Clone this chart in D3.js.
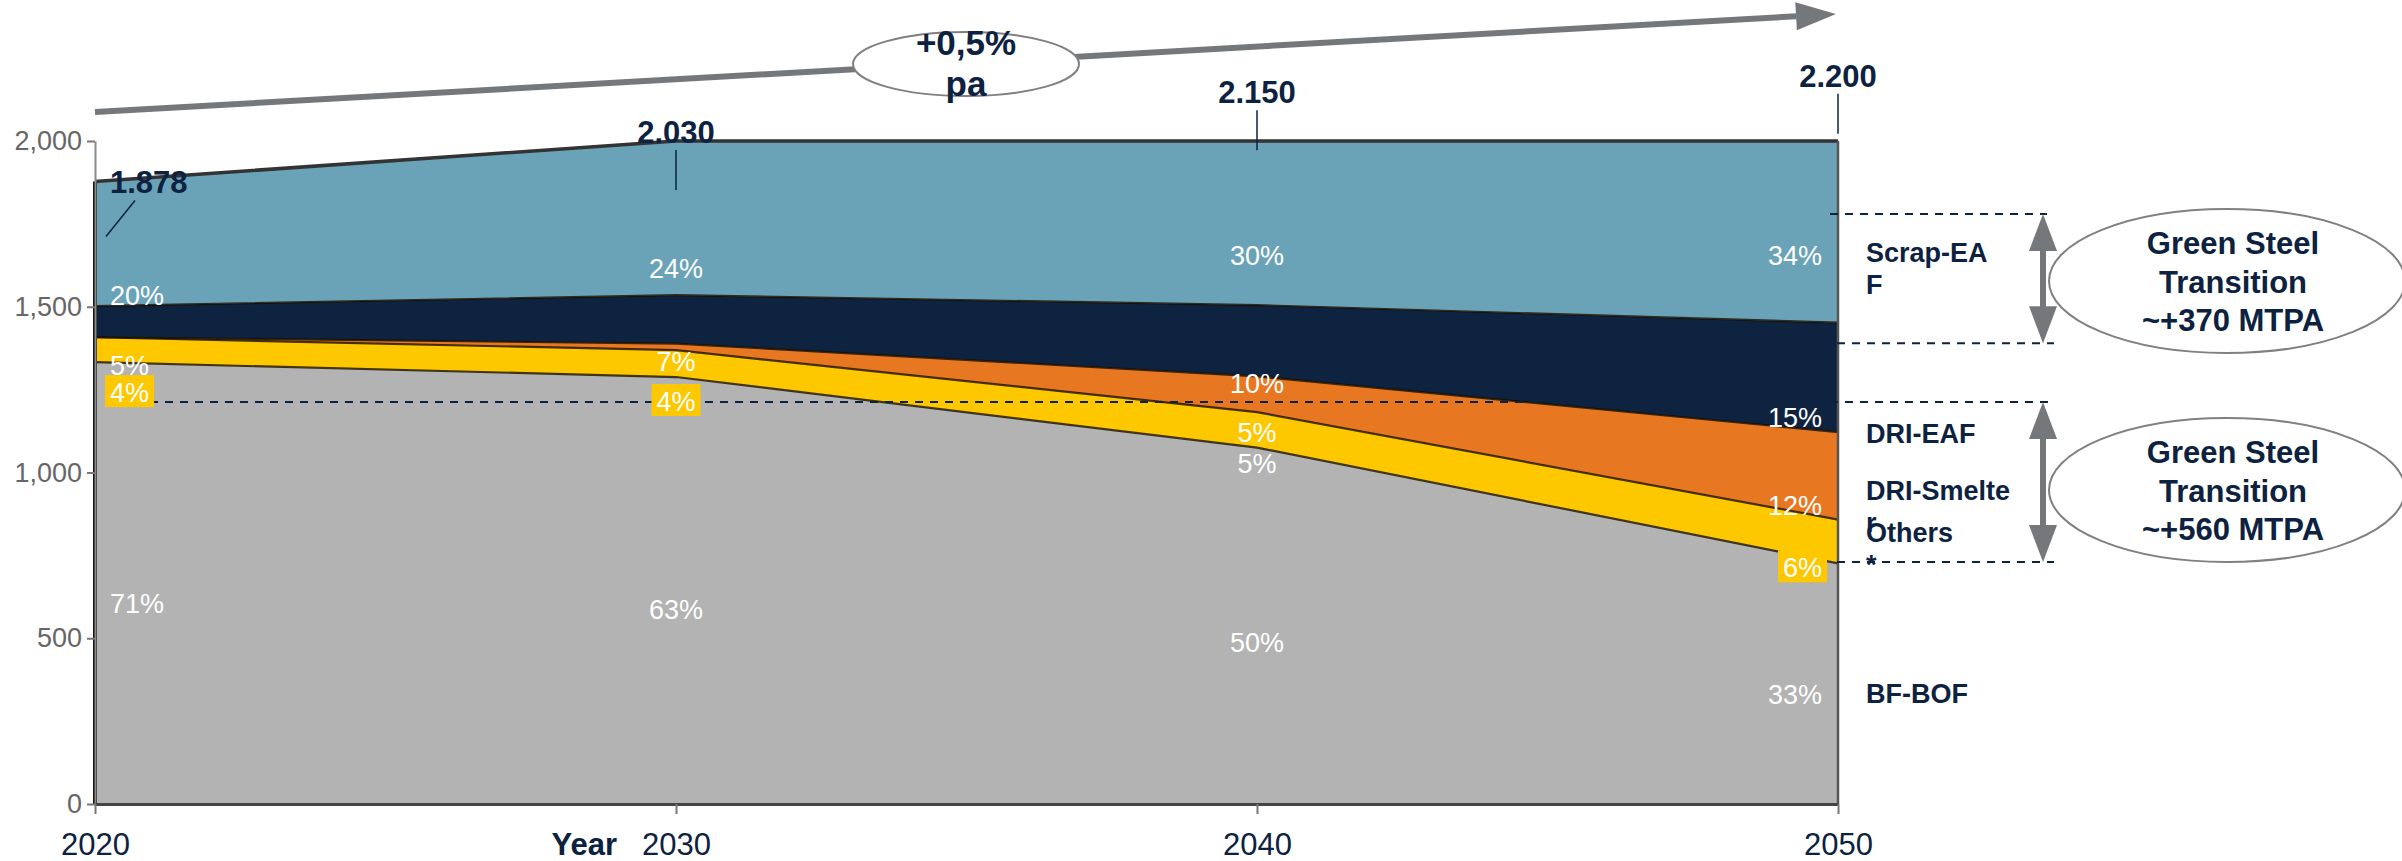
<!DOCTYPE html>
<html>
<head>
<meta charset="utf-8">
<script src="https://cdn.jsdelivr.net/npm/d3@7"></script>
<style>
  body { margin: 0; background: #fff; }
  svg { display: block; font-family: "Liberation Sans", Arial, sans-serif; }
  .pct { fill: #fff; font-size: 27px; }
  .total { fill: #0d2240; font-size: 31px; font-weight: bold; }
  .route { fill: #0d2240; font-size: 27px; font-weight: bold; }
  .bubble { fill: #0d2240; font-size: 31px; font-weight: bold; text-anchor: middle; }
  .yaxis text { fill: #666; font-size: 27px; }
  .xaxis text { fill: #0d2240; font-size: 31px; }
</style>
</head>
<body>
<svg width="2402" height="861"></svg>
<script>
// steel production by route, Mt
var years = [2020, 2030, 2040, 2050];
var bfBof = [1333, 1288, 1075, 726];
var others = [75, 81, 107, 132];
var driSmelter = [0, 20, 108, 264];
var driEaf = [94, 146, 215, 330];
var scrapEaf = [376, 495, 645, 748];
var routes = ["BF-BOF", "Others", "DRI-Smelter", "DRI-EAF", "Scrap-EAF"];
var routeLabels = [["Scrap-EA", "F"], ["DRI-EAF"], ["DRI-Smelte", "r"], ["Others", "*"], ["BF-BOF"]];
var yTicks = [0, 500, 1000, 1500, 2000];

var colors = {
  "BF-BOF": "#b2b3b2",
  "Others": "#fdc800",
  "DRI-Smelter": "#e87722",
  "DRI-EAF": "#0e2340",
  "Scrap-EAF": "#6aa3b8"
};

var rows = years.map(function(yr, i) {
  return { year: yr, "BF-BOF": bfBof[i], "Others": others[i], "DRI-Smelter": driSmelter[i],
           "DRI-EAF": driEaf[i], "Scrap-EAF": scrapEaf[i] };
});
var totals = rows.map(function(r) { return d3.sum(routes, function(k) { return r[k]; }); });
var layers = d3.stack().keys(routes)(rows);

var svg = d3.select("svg");
var navy = "#0d2240";
var grey = "#75787b";

var x = d3.scaleLinear().domain([2020, 2050]).range([95, 1838]);
var y = d3.scaleLinear().domain([0, 2000]).range([804, 141]).clamp(true);
var yRaw = y.copy().clamp(false);

var de = d3.formatLocale({ decimal: ",", thousands: ".", grouping: [3], currency: ["", ""] });

// growth arrow across the top
var x0 = x(2020), y0 = 112, x1 = x(2050) - 2, y1 = 14;
var ang = Math.atan2(y1 - y0, x1 - x0);
var hl = 40, hw = 14;
var bx = x1 - hl * Math.cos(ang), by = y1 - hl * Math.sin(ang);
svg.append("line").attr("x1", x0).attr("y1", y0).attr("x2", bx).attr("y2", by)
  .attr("stroke", grey).attr("stroke-width", 6);
svg.append("path")
  .attr("d", "M" + x1 + "," + y1 + "L" + (bx - hw * Math.sin(ang)) + "," + (by + hw * Math.cos(ang)) +
             "L" + (bx + hw * Math.sin(ang)) + "," + (by - hw * Math.cos(ang)) + "Z")
  .attr("fill", grey);

var cagr = Math.pow(totals[3] / totals[0], 1 / (years[3] - years[0])) - 1;
svg.append("ellipse").attr("cx", 966).attr("cy", 64).attr("rx", 113).attr("ry", 32)
  .attr("fill", "#fff").attr("stroke", "#808080").attr("stroke-width", 2);
svg.append("text").attr("class", "bubble").attr("x", 966).attr("y", 55).style("font-size", "35px")
  .text(de.format("+.1%")(cagr));
svg.append("text").attr("class", "bubble").attr("x", 966).attr("y", 96).style("font-size", "35px")
  .text("pa");

// stacked areas
var area = d3.area()
  .x(function(d) { return x(d.data.year); })
  .y0(function(d) { return y(d[0]); })
  .y1(function(d) { return y(d[1]); });
var edge = d3.line()
  .x(function(d) { return x(d.data.year); })
  .y(function(d) { return y(d[1]); });

svg.append("g").selectAll("path").data(layers).enter().append("path")
  .attr("d", area).attr("fill", function(d) { return colors[d.key]; });

svg.append("g").selectAll("path").data(layers).enter().append("path")
  .attr("d", edge).attr("fill", "none").attr("stroke-linejoin", "round")
  .attr("stroke", function(d, i) { return i === layers.length - 1 ? "#333" : "rgba(25,15,0,0.8)"; })
  .attr("stroke-width", function(d, i) { return i === layers.length - 1 ? 3.5 : 2.2; });

// left / right edges of the area
svg.append("line").attr("x1", x(2020)).attr("x2", x(2020))
  .attr("y1", y(0)).attr("y2", y(totals[0])).attr("stroke", "#111").attr("stroke-width", 4);

// axes
var yAxis = svg.append("g").attr("class", "yaxis").attr("transform", "translate(" + x(2020) + ",0)")
  .call(d3.axisLeft(y).tickValues(yTicks).tickFormat(d3.format(",")).tickSize(8).tickPadding(5).tickSizeOuter(0));
yAxis.select(".domain").attr("stroke", "#8a8a8a").attr("stroke-width", 2);
yAxis.selectAll(".tick line").attr("stroke", "#777").attr("stroke-width", 2);
yAxis.selectAll("text").attr("font-family", null).attr("font-size", null);

svg.append("line").attr("x1", x(2050)).attr("x2", x(2050))
  .attr("y1", y(2000)).attr("y2", y(0)).attr("stroke", "#555").attr("stroke-width", 2.5);

var xAxis = svg.append("g").attr("class", "xaxis").attr("transform", "translate(0," + y(0) + ")")
  .call(d3.axisBottom(x).tickValues(years).tickFormat(d3.format("d")).tickSize(10).tickPadding(19).tickSizeOuter(0));
xAxis.select(".domain").attr("stroke", "#444").attr("stroke-width", 3);
xAxis.selectAll(".tick line").attr("stroke", "#777").attr("stroke-width", 2);
xAxis.selectAll("text").attr("font-family", null).attr("font-size", null);
svg.append("text").attr("x", 617).attr("y", 855).attr("text-anchor", "end")
  .attr("fill", navy).attr("font-size", 31).attr("font-weight", "bold").text("Year");

// dashed guide lines (levels in Mt)
function dashed(v, xa, xb) {
  svg.append("line").attr("x1", xa).attr("x2", xb).attr("y1", y(v)).attr("y2", y(v))
    .attr("stroke", navy).attr("stroke-width", 2).attr("stroke-dasharray", "8,7");
}
dashed(1213, 105, 2054);
dashed(1780, 1830, 2047);
dashed(1390, 1837, 2054);
dashed(730, 1837, 2054);

// double arrows
function dblArrow(vTop, vBot) {
  var ax = 2043, t = y(vTop), b = y(vBot), L = 37, w = 14;
  svg.append("line").attr("x1", ax).attr("x2", ax).attr("y1", t + L - 2).attr("y2", b - L + 2)
    .attr("stroke", grey).attr("stroke-width", 6);
  svg.append("path").attr("d", "M" + ax + "," + t + "L" + (ax - w) + "," + (t + L) + "L" + (ax + w) + "," + (t + L) + "Z")
    .attr("fill", grey);
  svg.append("path").attr("d", "M" + ax + "," + b + "L" + (ax - w) + "," + (b - L) + "L" + (ax + w) + "," + (b - L) + "Z")
    .attr("fill", grey);
}
dblArrow(1780, 1390);
dblArrow(1213, 730);

// percent labels
var labelDy = {
  "Scrap-EAF": [-1, -17, -40, -58],
  "DRI-EAF": [38, 27, 17, -5],
  "DRI-Smelter": [0, 0, 30, -5],
  "Others": [40, 34, 25, 14],
  "BF-BOF": [30, 28, 26, 20]
};
var boxed = [true, true, false, true];
var pctG = svg.append("g");
layers.forEach(function(layer) {
  layer.forEach(function(d, i) {
    var pct = Math.round((d[1] - d[0]) / totals[i] * 100);
    if (pct < 2) return;
    var ty;
    if (layer.key === "BF-BOF") ty = (y(d[0]) + y(d[1])) / 2 + labelDy[layer.key][i];
    else ty = y(d[0]) + labelDy[layer.key][i];
    var tx = i === 0 ? x(d.data.year) + 15 : i === 3 ? x(d.data.year) - 16 : x(d.data.year);
    var anchor = i === 0 ? "start" : i === 3 ? "end" : "middle";
    var g = pctG.append("g");
    var t = g.append("text").attr("class", "pct").attr("x", tx).attr("y", ty)
      .attr("text-anchor", anchor).text(pct + "%");
    if (layer.key === "Others" && boxed[i]) {
      var bb = t.node().getBBox();
      g.insert("rect", "text").attr("x", bb.x - 5).attr("y", ty - 27).attr("width", bb.width + 10).attr("height", 32)
        .attr("fill", colors["Others"]);
    }
  });
});

// totals with leader lines
rows.forEach(function(r, i) {
  var base = yRaw(totals[i]) + 12;
  var cx = x(r.year);
  svg.append("text").attr("class", "total")
    .attr("x", i === 0 ? cx + 15 : cx).attr("y", base)
    .attr("text-anchor", i === 0 ? "start" : "middle")
    .text(de.format(",d")(totals[i]));
  if (i === 0) {
    svg.append("line").attr("x1", cx + 40).attr("y1", base + 7).attr("x2", cx + 11).attr("y2", base + 43)
      .attr("stroke", navy).attr("stroke-width", 1.5);
  } else {
    svg.append("line").attr("x1", cx).attr("x2", cx).attr("y1", base + 7).attr("y2", base + 47)
      .attr("stroke", navy).attr("stroke-width", 1.5);
  }
});

// route names on the right
var routeY = [262, 443, 500, 542, 703];
routeLabels.forEach(function(lines, i) {
  var t = svg.append("text").attr("class", "route").attr("x", 1866).attr("y", routeY[i]);
  lines.forEach(function(s, j) {
    t.append("tspan").attr("x", 1866).attr("dy", j === 0 ? 0 : 32).text(s);
  });
});

// green steel bubbles
var scrapGain = Math.round((scrapEaf[3] - scrapEaf[0]) / 10) * 10;
var greenGain = Math.round(((driEaf[3] + driSmelter[3] + others[3]) - (driEaf[0] + driSmelter[0] + others[0])) / 10) * 10;
[[281, scrapGain], [490, greenGain]].forEach(function(b) {
  svg.append("ellipse").attr("cx", 2227).attr("cy", b[0]).attr("rx", 178).attr("ry", 72)
    .attr("fill", "none").attr("stroke", "#808080").attr("stroke-width", 2);
  ["Green Steel", "Transition", "~+" + b[1] + " MTPA"].forEach(function(s, j) {
    svg.append("text").attr("class", "bubble").attr("x", 2233).attr("y", b[0] - 27 + j * 38.5).text(s);
  });
});
</script>
</body>
</html>
